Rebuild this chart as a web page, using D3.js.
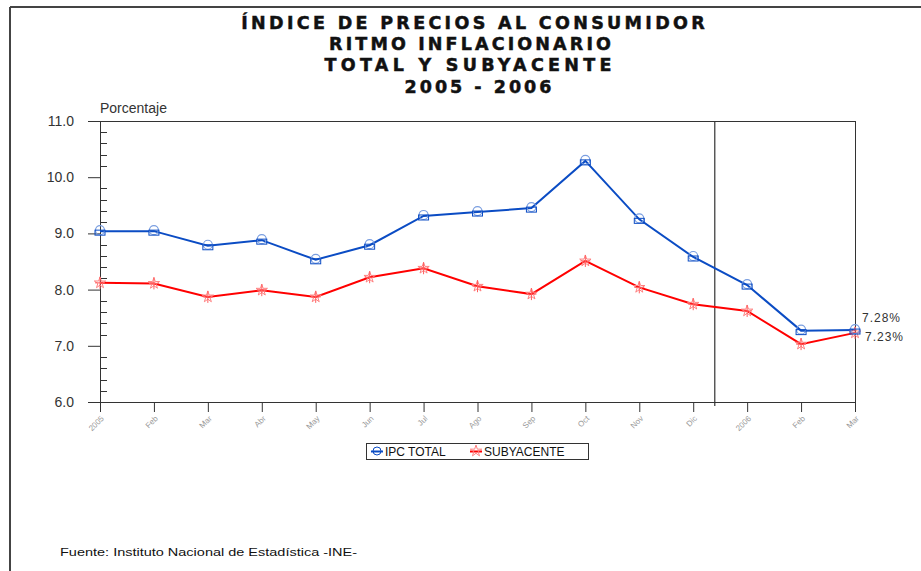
<!DOCTYPE html>
<html>
<head>
<meta charset="utf-8">
<script src="https://cdn.jsdelivr.net/npm/d3@7"></script>
<style>
  body { margin: 0; background: #fff; }
  svg { display: block; }
</style>
</head>
<body>
<svg id="chart" width="921" height="571"></svg>
<script>
const months = ['2005', 'Feb', 'Mar', 'Abr', 'May', 'Jun', 'Jul', 'Ago', 'Sep', 'Oct', 'Nov', 'Dic', '2006', 'Feb ', 'Mar '];
const ipcTotal = [9.04, 9.04, 8.78, 8.88, 8.53, 8.79, 9.31, 9.38, 9.45, 10.29, 9.25, 8.58, 8.08, 7.27, 7.28];
const subyacente = [8.12, 8.11, 7.87, 7.99, 7.87, 8.22, 8.38, 8.06, 7.92, 8.51, 8.04, 7.74, 7.62, 7.03, 7.23];
const yTicks = [6, 7, 8, 9, 10, 11];
const titleLines = ['ÍNDICE DE PRECIOS AL CONSUMIDOR', 'RITMO INFLACIONARIO', 'TOTAL Y SUBYACENTE', '2005 - 2006'];
const endLabels = ['7.28%', '7.23%'];

const svg = d3.select('#chart');

// outer frame (top + left only, like the scan)
svg.append('line').attr('x1', 10).attr('x2', 921).attr('y1', 7).attr('y2', 7)
  .attr('stroke', '#444').attr('stroke-width', 2);
svg.append('line').attr('x1', 10).attr('x2', 10).attr('y1', 7).attr('y2', 571)
  .attr('stroke', '#444').attr('stroke-width', 2);

// title: fit each line to its width in the scan via letter-spacing
const titleWidths = [467, 285, 291, 150];
const titleX = [473, 470, 468, 478];
titleLines.forEach((t, i) => {
  const txt = svg.append('text')
    .attr('x', titleX[i]).attr('y', 29 + i * 21.2)
    .attr('text-anchor', 'middle')
    .attr('font-family', 'DejaVu Sans, Verdana, sans-serif')
    .attr('font-weight', 'bold')
    .attr('font-size', 17.5)
    .attr('fill', '#111')
    .attr('stroke', '#111')
    .attr('stroke-width', 0.5)
    .text(t);
  const natural = txt.node().getComputedTextLength();
  const ls = (titleWidths[i] - natural) / t.length;
  txt.attr('letter-spacing', ls.toFixed(2))
    .attr('dx', (ls / 2).toFixed(2));
});

const x = d3.scalePoint().domain(months).range([100, 855]);
const y = d3.scaleLinear().domain([6, 11]).range([402, 121]);

const ink = '#333';

// x axis
const xAxis = svg.append('g')
  .attr('transform', 'translate(0,402)')
  .call(d3.axisBottom(x).tickSize(10).tickSizeOuter(0));
xAxis.select('.domain').attr('stroke', ink).attr('d', 'M88,0.5H855');
xAxis.selectAll('.tick line').attr('stroke', ink);
xAxis.selectAll('.tick text')
  .attr('font-family', 'Arial, Liberation Sans, sans-serif')
  .attr('font-size', 8)
  .attr('fill', '#999')
  .attr('text-anchor', 'end')
  .attr('x', 0).attr('y', 0).attr('dy', '0.35em')
  .attr('transform', 'translate(2,15) rotate(-45)');

// y axis major
const yAxis = svg.append('g')
  .attr('transform', 'translate(100,0)')
  .call(d3.axisLeft(y).tickValues(yTicks).tickFormat(d3.format('.1f')).tickSize(12).tickSizeOuter(0));
yAxis.select('.domain').attr('stroke', ink);
yAxis.selectAll('.tick line').attr('stroke', ink);
yAxis.selectAll('.tick text')
  .attr('font-family', 'Arial, Liberation Sans, sans-serif')
  .attr('font-size', 14)
  .attr('fill', ink)
  .attr('x', -26);

// y minor ticks (inside)
const minor = d3.range(6, 11.001, 0.2).filter(v => Math.abs(v - Math.round(v)) > 0.01);
svg.append('g').selectAll('line').data(minor).join('line')
  .attr('x1', 100).attr('x2', 107)
  .attr('y1', d => Math.round(y(d)) + 0.5).attr('y2', d => Math.round(y(d)) + 0.5)
  .attr('stroke', ink);

// plot frame top + right
svg.append('line').attr('x1', 88).attr('x2', 855).attr('y1', y(11) + 0.5).attr('y2', y(11) + 0.5).attr('stroke', ink);
svg.append('line').attr('x1', 855.5).attr('x2', 855.5).attr('y1', y(11)).attr('y2', y(6) + 10).attr('stroke', ink);

// year separator
const step = x.step();
const sepX = x('Dic') + step * 0.4;
svg.append('line').attr('x1', sepX).attr('x2', sepX).attr('y1', y(11)).attr('y2', y(6) + 4)
  .attr('stroke', ink).attr('stroke-width', 1.2);

svg.append('text')
  .attr('x', 100).attr('y', 113)
  .attr('font-family', 'Arial, Liberation Sans, sans-serif')
  .attr('font-size', 14)
  .attr('fill', ink)
  .text('Porcentaje');

const blue = '#0b4cc4';
const red = '#ff0000';

const line = d3.line().x((d, i) => x(months[i])).y(d => y(d));

svg.append('path').datum(subyacente).attr('d', line)
  .attr('fill', 'none').attr('stroke', red).attr('stroke-width', 2);
svg.append('path').datum(ipcTotal).attr('d', line)
  .attr('fill', 'none').attr('stroke', blue).attr('stroke-width', 2);

// markers
const star = d3.symbol().type(d3.symbolStar).size(40);
const redM = svg.append('g').selectAll('g').data(subyacente).join('g')
  .attr('transform', (d, i) => `translate(${x(months[i])},${y(d)})`);
redM.append('path').attr('d', star).attr('fill', 'none').attr('stroke', '#ff8080').attr('stroke-width', 1);
redM.append('path').attr('d', 'M0,-6V6M-5,0H5').attr('stroke', '#ff6060').attr('stroke-width', 1);

const blueM = svg.append('g').selectAll('g').data(ipcTotal).join('g')
  .attr('transform', (d, i) => `translate(${x(months[i])},${y(d)})`);
blueM.append('circle').attr('cy', -1).attr('r', 4.5).attr('fill', 'none').attr('stroke', '#7a9ee0').attr('stroke-width', 1.2);
blueM.append('rect').attr('x', -5).attr('y', -1).attr('width', 10).attr('height', 5)
  .attr('fill', 'none').attr('stroke', blue).attr('stroke-width', 1);

// end labels
svg.append('g').selectAll('text').data(endLabels).join('text')
  .attr('x', (d, i) => 862 + i * 3)
  .attr('y', (d, i) => 322 + i * 19)
  .attr('font-family', 'Arial, Liberation Sans, sans-serif')
  .attr('font-size', 12)
  .attr('letter-spacing', 1)
  .attr('fill', ink)
  .text(d => d);

// legend
const lg = svg.append('g');
lg.append('rect').attr('x', 366.5).attr('y', 443.5).attr('width', 222).attr('height', 16)
  .attr('fill', '#fff').attr('stroke', ink);
lg.append('line').attr('x1', 371).attr('x2', 383).attr('y1', 451.5).attr('y2', 451.5).attr('stroke', blue).attr('stroke-width', 2);
lg.append('circle').attr('cx', 377).attr('cy', 451).attr('r', 4).attr('fill', 'none').attr('stroke', blue);
lg.append('text').attr('x', 385).attr('y', 456)
  .attr('font-family', 'Arial, Liberation Sans, sans-serif').attr('font-size', 12).attr('fill', '#111')
  .text('IPC TOTAL');
lg.append('line').attr('x1', 470).attr('x2', 482).attr('y1', 451.5).attr('y2', 451.5).attr('stroke', red).attr('stroke-width', 2);
lg.append('path').attr('transform', 'translate(476,451)').attr('d', star).attr('fill', 'none').attr('stroke', '#ff8080');
lg.append('text').attr('x', 484).attr('y', 456)
  .attr('font-family', 'Arial, Liberation Sans, sans-serif').attr('font-size', 12).attr('fill', '#111')
  .text('SUBYACENTE');

// source
svg.append('text')
  .attr('x', 60).attr('y', 556)
  .attr('font-family', 'Arial, Liberation Sans, sans-serif')
  .attr('font-size', 11)
  .attr('textLength', 297)
  .attr('lengthAdjust', 'spacingAndGlyphs')
  .attr('fill', '#111')
  .text('Fuente: Instituto Nacional de Estadística -INE-');
</script>
</body>
</html>
